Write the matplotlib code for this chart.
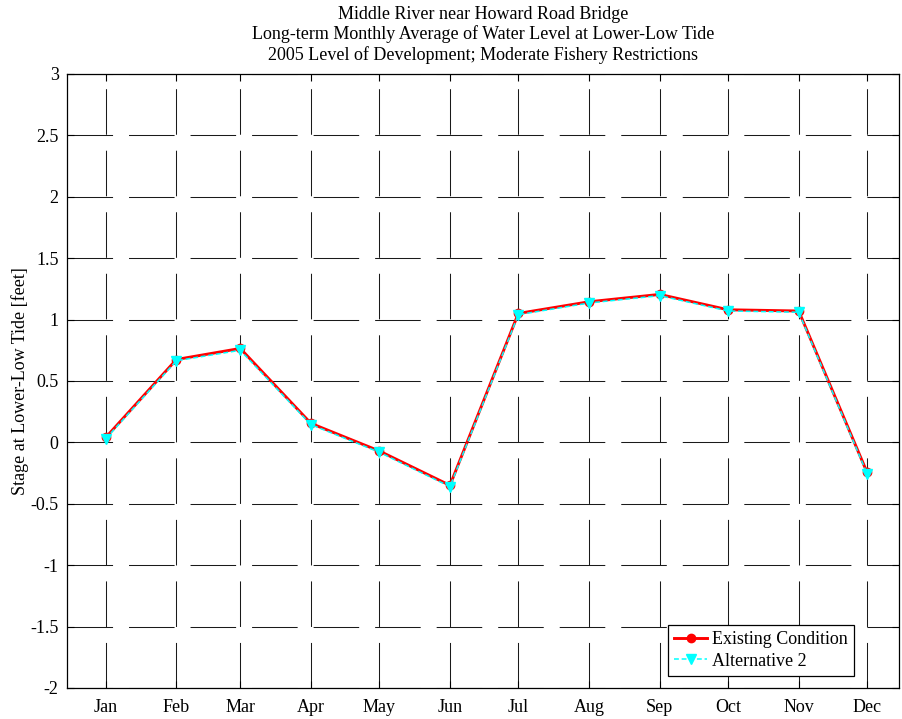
import matplotlib
matplotlib.use('Agg')
import matplotlib.pyplot as plt

plt.rcParams['font.family'] = ['Liberation Serif', 'DejaVu Serif']
plt.rcParams['lines.scale_dashes'] = False

MONTHS = ['Jan', 'Feb', 'Mar', 'Apr', 'May', 'Jun', 'Jul', 'Aug', 'Sep', 'Oct', 'Nov', 'Dec']
# day of year used as x position of each monthly value
DAYS = [17, 48, 76, 107, 137, 168, 198, 229, 260, 290, 321, 351]

existing = [0.04, 0.675, 0.765, 0.155, -0.07, -0.35, 1.05, 1.145, 1.205, 1.08, 1.07, -0.245]
alt2 = [0.03, 0.665, 0.75, 0.145, -0.08, -0.36, 1.04, 1.135, 1.195, 1.07, 1.06, -0.255]

TITLE = ('Middle River near Howard Road Bridge\n'
         'Long-term Monthly Average of Water Level at Lower-Low Tide\n'
         '2005 Level of Development; Moderate Fishery Restrictions')

fig = plt.figure(figsize=(9.03, 7.19), dpi=100)
ax = fig.add_axes([67/903, 1-688/719, (899-67)/903, (688-74)/719])

ax.plot(DAYS, existing, color='red', lw=2.1, marker='o', ms=6,
        mfc='red', mec='red', label='Existing Condition')
ax.plot(DAYS, alt2, color='cyan', lw=1.1, linestyle=(0, (3.5, 2)), marker='v', ms=7.5,
        mfc='cyan', mec='cyan', label='Alternative 2')

ax.set_xlim(0, 365)
ax.set_ylim(-2, 3)
ax.set_xticks(DAYS)
ax.set_xticklabels(MONTHS)
ax.set_yticks([-2, -1.5, -1, -0.5, 0, 0.5, 1, 1.5, 2, 2.5, 3])
ax.set_yticklabels(['-2', '-1.5', '-1', '-0.5', '0', '0.5', '1', '1.5', '2', '2.5', '3'])

ax.grid(True, color='0.1', lw=0.75, linestyle=(0, (32.8, 11.5)))
ax.set_axisbelow(True)
ax.tick_params(direction='in', length=5, width=0.8, top=True, right=True,
               labelsize=13)
ax.tick_params(axis='x', pad=8)
ax.tick_params(axis='y', pad=6)
for s in ax.spines.values():
    s.set_linewidth(0.9)

ax.set_ylabel('Stage at Lower-Low Tide [feet]', fontsize=13, labelpad=1)
ax.set_title(TITLE, fontsize=13, linespacing=1.2, pad=10)

leg = ax.legend(loc='lower right', fontsize=13, frameon=True, fancybox=False,
                edgecolor='black', framealpha=1, handlelength=1.85,
                borderpad=0.35, labelspacing=0.25, handletextpad=0.25,
                borderaxespad=0, bbox_to_anchor=(0.946, 0.0195))
leg.get_frame().set_linewidth(0.9)

fig.savefig('out.png', dpi=100)
